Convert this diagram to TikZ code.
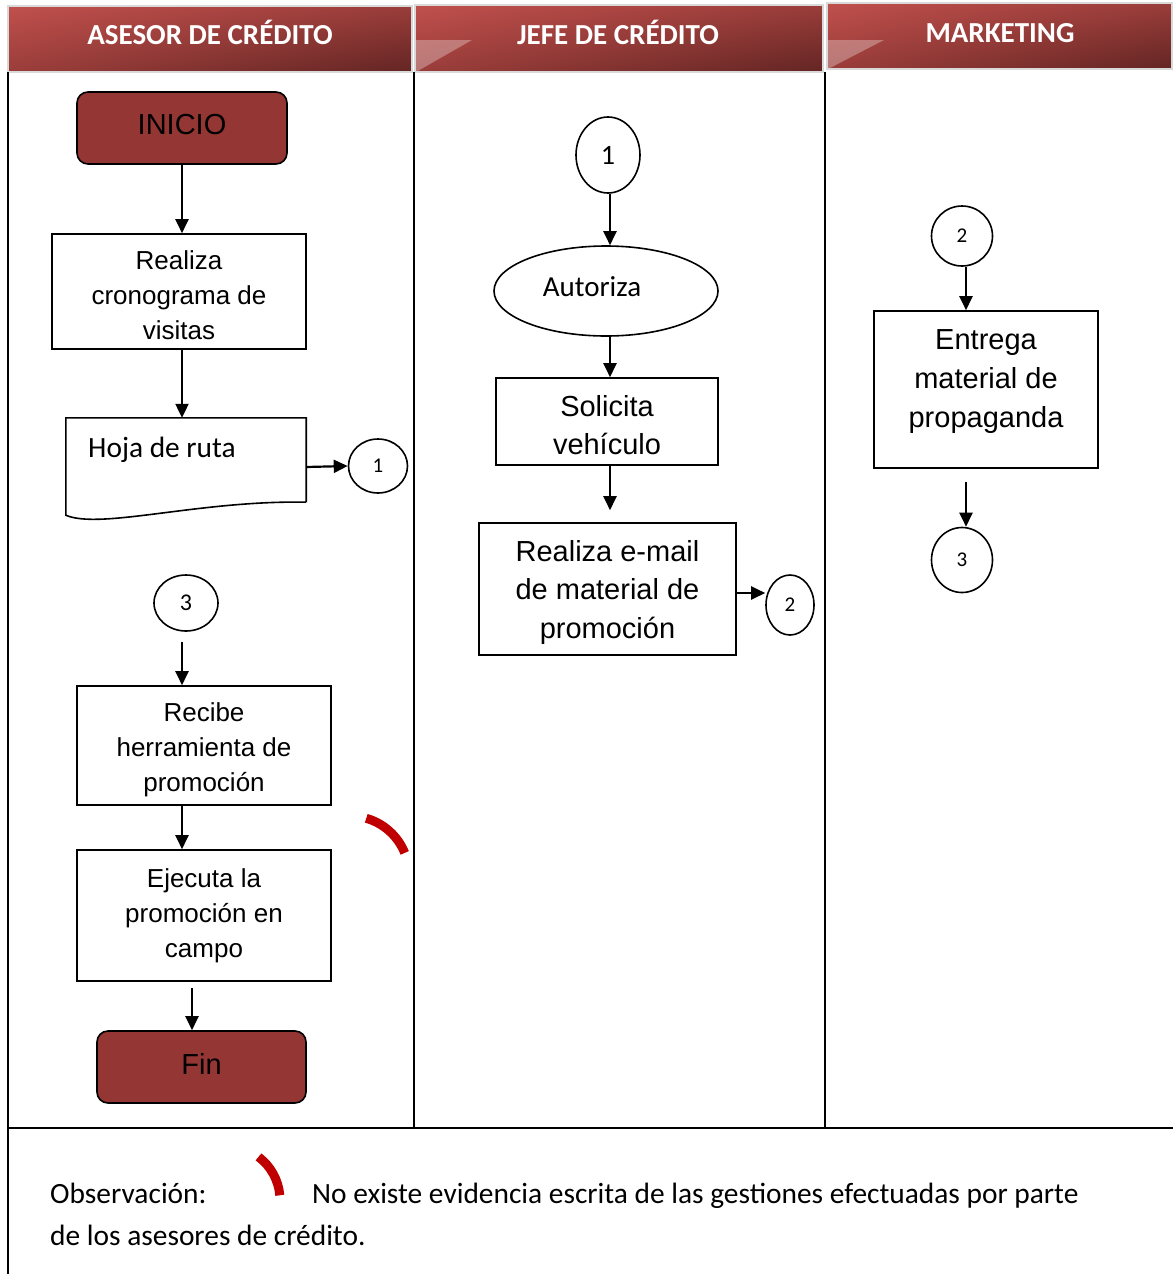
\documentclass[tikz,border=0pt]{standalone}
\usepackage{fontspec}
\newfontfamily\arialf{Liberation Sans}
\newfontfamily\calf{Carlito}
\usetikzlibrary{arrows.meta,shapes.geometric,shadings}
\definecolor{hdrlight}{HTML}{C0504D}
\definecolor{hdrmid}{HTML}{9A3D3A}
\definecolor{hdrdark}{HTML}{632523}
\definecolor{termfill}{HTML}{943634}
\definecolor{markred}{HTML}{C00000}

\begin{document}
\begin{tikzpicture}[x=1pt,y=-1pt,
  procbox/.style={draw=black, line width=1.6pt, fill=white, align=center, inner sep=0pt,
                  font=\arialf\fontsize{26}{35}\selectfont},
  bigbox/.style={procbox, font=\arialf\fontsize{29}{38.5}\selectfont},
  boxtext/.style={inner sep=0pt, align=center, font=\arialf\fontsize{26}{35}\selectfont},
  bigtext/.style={inner sep=0pt, align=center, font=\arialf\fontsize{29}{38.5}\selectfont},
  termbox/.style={draw=black, line width=1.6pt, fill=termfill, rounded corners=11pt,
                  font=\arialf\fontsize{29}{35}\selectfont},
  conn/.style={ellipse, draw=black, line width=1.6pt, fill=white, inner sep=0pt,
               font=\calf\fontsize{21}{25}\selectfont},
  arr/.style={draw=black, line width=2.2pt, -{Triangle[length=14pt,width=13pt]}},
  lane/.style={draw=black, line width=2pt},
  hdrtext/.style={text=white, inner sep=0pt, anchor=base,
                  font=\calf\bfseries\fontsize{29}{35}\selectfont},
  hdrbox/.style={draw=black!15, line width=1.5pt},
  hdrshade/.style={upper left=hdrlight, upper right=hdrmid, lower left=hdrmid, lower right=hdrdark},
  redmark/.style={draw=markred, line width=9pt},
  note/.style={inner sep=0pt, anchor=base west, font=\calf\fontsize{29.4}{35}\selectfont}
]
\useasboundingbox (0,0) rectangle (1173,1274);
\fill[white] (0,0) rectangle (1173,1274);

% lane headers
\shade[hdrshade] (8,6) rectangle (412,72);
\draw[hdrbox] (8,6) rectangle (412,72);
\shade[hdrshade] (415,5) rectangle (823,72);
\fill[white, opacity=0.3] (416,40) -- (472,40) -- (416,72) -- cycle;
\draw[hdrbox] (415,5) rectangle (823,72);
\shade[hdrshade] (827,3) rectangle (1172,69);
\fill[white, opacity=0.3] (828,40) -- (884,40) -- (828,69) -- cycle;
\draw[hdrbox] (827,3) rectangle (1172,69);

\node[hdrtext] (h1) at (210,44) {ASESOR DE CRÉDITO};
\node[hdrtext] (h2) at (618,44) {JEFE DE CRÉDITO};
\node[hdrtext] (h3) at (1000,42) {MARKETING};

% lane borders
\draw[lane] (8,72) -- (8,1274);
\draw[lane] (413.5,72) -- (413.5,1128);
\draw[lane] (825,72) -- (825,1128);
\draw[lane] (8,1128) -- (1173,1128);

% asesor de credito
\node[termbox, minimum width=210, minimum height=72] (inicio) at (182,128) {\raisebox{7pt}{INICIO}};
\node[procbox, minimum width=254, minimum height=115] (cron) at (179,291.5) {};
\node[boxtext] (crontxt) at (179,295.5) {Realiza\\cronograma de\\visitas};
\node[inner sep=0pt, minimum width=240, minimum height=84] (hoja) at (186,460) {};
\draw[line width=1.6pt] (hoja.south east) -- (hoja.north east) -- (hoja.north west)
  -- ([yshift=-13pt]hoja.south west)
  .. controls (100,530) and (200,500) .. (hoja.south east);
\node[note] (hojatxt) at (88,457) {Hoja de ruta};
\node[conn, minimum width=59, minimum height=54] (c1a) at (378,466) {1};

\node[conn, minimum width=64, minimum height=56, font=\calf\fontsize{24}{28}\selectfont]
  (c3a) at (186,603) {3};
\node[procbox, minimum width=254, minimum height=119] (recibe) at (204,745.5) {};
\node[boxtext] (recibetxt) at (204,750) {Recibe\\herramienta de\\promoción};
\node[procbox, minimum width=254, minimum height=131] (ejecuta) at (204,915.5)
  {Ejecuta la\\promoción en\\campo};
\node[termbox, minimum width=209, minimum height=72] (fin) at (201.5,1067) {\raisebox{7pt}{Fin}};

% jefe de credito
\node[conn, minimum width=64, minimum height=76, font=\calf\fontsize{28}{32}\selectfont]
  (m1) at (608,155) {1};
\node[ellipse, draw=black, line width=1.6pt, minimum width=224, minimum height=90,
      inner sep=0pt] (autoriza) at (606,291) {};
\node[inner sep=0pt, font=\calf\fontsize{29}{35}\selectfont] (autorizatxt) at (592,287) {Autoriza};
\node[bigbox, minimum width=222, minimum height=87] (solicita) at (607,421.5) {};
\node[bigtext] (solicitatxt) at (607,425) {Solicita\\vehículo};
\node[bigbox, minimum width=257, minimum height=132] (email) at (607.5,589) {};
\node[bigtext] (emailtxt) at (607.5,592) {Realiza e-mail\\de material de\\promoción};
\node[conn, minimum width=48, minimum height=60] (c2a) at (790,605) {2};

% marketing
\node[conn, minimum width=61, minimum height=60] (c2b) at (962,236) {2};
\node[procbox, minimum width=224, minimum height=157] (entrega) at (986,389.5) {};
\node[bigtext, font=\arialf\fontsize{29}{39}\selectfont]
  (entregatxt) at (986,382) {Entrega\\material de\\propaganda};
\node[conn, minimum width=61, minimum height=65] (c3b) at (962,560) {3};

% connectors
\draw[arr] (inicio.south) -- (inicio.south |- cron.north);
\draw[arr] ([xshift=3pt]cron.south) -- ([xshift=3pt]cron.south |- hoja.north);
\draw[arr] ([yshift=-7pt]hoja.east) -- (c1a.west);
\draw[arr, shorten <=10pt] ([xshift=-4pt]c3a.south) -- ([xshift=-4pt]c3a.south |- recibe.north);
\draw[arr] ([xshift=-22pt]recibe.south) -- ([xshift=-22pt]ejecuta.north);
\draw[arr, shorten <=6pt] ([xshift=-12pt]ejecuta.south) -- ([xshift=-12pt]ejecuta.south |- fin.north);
\draw[arr] ([xshift=2pt]m1.south) -- ([xshift=2pt]m1.south |- autoriza.north);
\draw[arr] ([xshift=4pt]autoriza.south) -- ([xshift=4pt]autoriza.south |- solicita.north);
\draw[arr, shorten >=12pt] ([xshift=3pt]solicita.south) -- ([xshift=3pt]solicita.south |- email.north);
\draw[arr] ([yshift=-4pt]email.east) -- ([yshift=-4pt]email.east -| c2a.west);
\draw[arr] ([xshift=4pt]c2b.south) -- ([xshift=4pt]c2b.south |- entrega.north);
\draw[arr, shorten <=13pt] ([xshift=-20pt]entrega.south) -- ([xshift=-20pt]entrega.south |- c3b.north);

% observation marks
\draw[redmark] (350,875) ++(-74:59) arc[start angle=-74, end angle=-22, radius=59];
\draw[redmark] (226,1200) ++(-53:54) arc[start angle=-53, end angle=-5, radius=54];

% observation
\node[note] (obs) at (50,1203) {Observación:};
\node[note] (obsa) at (312,1203) {No existe evidencia escrita de las gestiones efectuadas por parte};
\node[note] (obsb) at (50,1245) {de los asesores de crédito.};
\end{tikzpicture}
\end{document}
